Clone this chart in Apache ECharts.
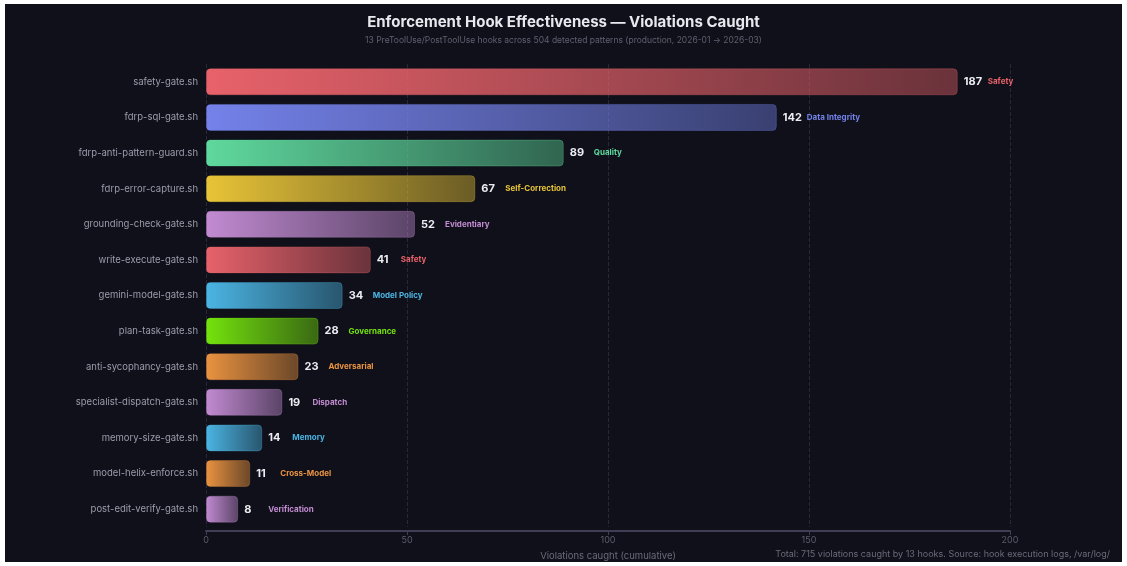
<!DOCTYPE html>
<html>
<head>
<meta charset="utf-8">
<script src="https://cdn.jsdelivr.net/npm/echarts@6/dist/echarts.min.js"></script>
<style>
html,body{margin:0;padding:0;background:#ffffff;}
#chart{position:absolute;left:5px;top:4px;width:1117px;height:558px;background:#0f1019;}
</style>
</head>
<body>
<div id="chart"></div>
<script>
const hooks = ["safety-gate.sh","fdrp-sql-gate.sh","fdrp-anti-pattern-guard.sh","fdrp-error-capture.sh","grounding-check-gate.sh","write-execute-gate.sh","gemini-model-gate.sh","plan-task-gate.sh","anti-sycophancy-gate.sh","specialist-dispatch-gate.sh","memory-size-gate.sh","model-helix-enforce.sh","post-edit-verify-gate.sh"];
const violations = [187,142,89,67,52,41,34,28,23,19,14,11,8];
const categories = ["Safety","Data Integrity","Quality","Self-Correction","Evidentiary","Safety","Model Policy","Governance","Adversarial","Dispatch","Memory","Cross-Model","Verification"];
const xTicks = [0,50,100,150,200];

const categoryColors = {
  "Safety":"#e8626a",
  "Data Integrity":"#7482ea",
  "Quality":"#5fd99d",
  "Self-Correction":"#e8c437",
  "Evidentiary":"#c28bd2",
  "Model Policy":"#4bb5e3",
  "Governance":"#74e30c",
  "Adversarial":"#ea9340",
  "Dispatch":"#c28bd2",
  "Memory":"#4bb5e3",
  "Cross-Model":"#ea9340",
  "Verification":"#c28bd2"
};

function hexA(hex,a){
  const n=parseInt(hex.slice(1),16);
  return `rgba(${(n>>16)&255},${(n>>8)&255},${n&255},${a})`;
}

const chart = echarts.init(document.getElementById('chart'));
const data = violations.map((v,i)=>{
  const c = categoryColors[categories[i]];
  return {
    value: v,
    itemStyle: {
      color: new echarts.graphic.LinearGradient(0,0,1,0,[{offset:0,color:hexA(c,1)},{offset:1,color:hexA(c,0.42)}]),
      borderColor: hexA(c,0.3),
      borderWidth: 1,
      borderRadius: 4
    },
    label: {
      formatter: `{v|${v}}{c|${categories[i]}}`,
      rich: {
        v:{color:'#ececf2',fontSize:11,fontWeight:'bold',fontFamily:'Inter',width:24,align:'left'},
        c:{color:c,fontSize:8,fontWeight:'bold',fontFamily:'Inter',align:'left'}
      }
    }
  };
});

chart.setOption({
  backgroundColor:'#0f1019',
  animation:false,
  textStyle:{fontFamily:'Inter'},
  title:[{
    text:'Enforcement Hook Effectiveness — Violations Caught',
    subtext:'13 PreToolUse/PostToolUse hooks across 504 detected patterns (production, 2026-01 → 2026-03)',
    left:'center', top:6,
    textStyle:{color:'#e8e8ee',fontSize:15,fontWeight:'bold',fontFamily:'Inter'},
    subtextStyle:{color:'#5f6070',fontSize:8.5,fontFamily:'Inter'},
    itemGap:6
  }],
  graphic:[{
    type:'text', right:12, bottom:3,
    style:{text:'Total: 715 violations caught by 13 hooks. Source: hook execution logs, /var/log/',fill:'#6a6b7a',fontSize:9,fontFamily:'Inter',textAlign:'right'}
  }],
  grid:{left:201,right:112,top:60,bottom:35,outerBoundsMode:'none',containLabel:false},
  xAxis:{
    type:'value', min:0, max:200, interval:50,
    offset:4,
    name:'Violations caught (cumulative)', nameLocation:'middle', nameGap:20,
    nameTextStyle:{color:'#6a6b7a',fontSize:9.5,fontFamily:'Inter'},
    axisLine:{show:true,lineStyle:{color:'#3e3e55',width:2}},
    axisTick:{show:true,length:4,lineStyle:{color:'#3e3e55'}},
    axisLabel:{color:'#5c5d6c',fontSize:9,margin:5,fontFamily:'Inter',
      formatter:(v)=>xTicks.includes(v)?String(v):''},
    splitLine:{show:true,lineStyle:{color:'#272838',type:'dashed',width:1}}
  },
  yAxis:{
    type:'category', data:hooks, inverse:true,
    axisLine:{show:false}, axisTick:{show:false},
    axisLabel:{color:'#9b9cab',fontSize:9.5,margin:8,fontFamily:'Inter'}
  },
  series:[{
    type:'bar', data:data, barWidth:27,
    label:{show:true,position:'right',distance:6}
  }]
});
</script>
</body>
</html>
